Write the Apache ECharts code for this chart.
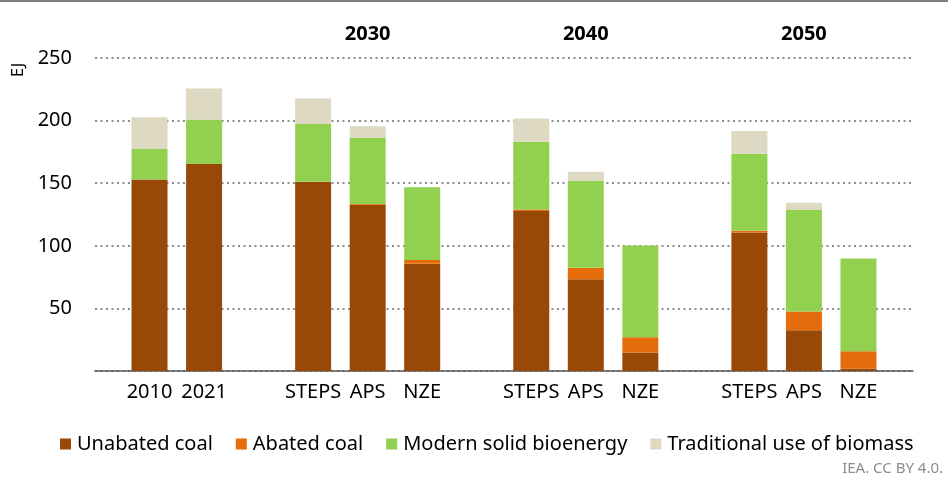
<!DOCTYPE html>
<html>
<head>
<meta charset="utf-8">
<script src="https://cdn.jsdelivr.net/npm/echarts@6/dist/echarts.min.js"></script>
<style>html,body{margin:0;padding:0;background:#fff}#c{width:948px;height:482px}</style>
</head>
<body>
<div id="c"></div>
<script>
// Categories (blank entries are spacing slots between groups)
const categories = ['', '2010', '2021', '', 'STEPS', 'APS', 'NZE', '', 'STEPS', 'APS', 'NZE', '', 'STEPS', 'APS', 'NZE', ''];
const groupLabels = ['', '', '', '', '', '2030', '', '', '', '2040', '', '', '', '2050', '', ''];
// Series values (EJ)
const unabatedCoal = [null, 153, 165.3, null, 150.9, 132.8, 85.6, null, 127.7, 73.3, 14.7, null, 110.7, 32.5, 1.9, null];
const abatedCoal   = [null, 0, 0, null, 0.3, 0.5, 3.0, null, 1.3, 9.1, 12.2, null, 1.3, 15.0, 13.8, null];
const modernBio    = [null, 24.3, 35.5, null, 46.1, 53.1, 58.1, null, 54.2, 69.6, 73.4, null, 61.6, 81.0, 74.2, null];
const tradBiomass  = [null, 25.3, 24.8, null, 20.3, 9.1, 0, null, 18.4, 7.2, 0, null, 18.1, 5.9, 0, null];
const yTicks = { min: 0, max: 250, interval: 50 };

const FONT = 'Noto Sans';
const chart = echarts.init(document.getElementById('c'), null, { renderer: 'canvas' });

function bar(name, data, color) {
  return {
    name, type: 'bar', stack: 'total', data, barWidth: 36,
    itemStyle: { color },
    emphasis: { disabled: true }
  };
}

chart.setOption({
  animation: false,
  backgroundColor: '#fff',
  textStyle: { fontFamily: FONT },
  grid: { left: 95, right: 35, top: 58, bottom: 111, containLabel: false },
  xAxis: [{
    type: 'category', data: categories, boundaryGap: false,
    axisLine: { show: true, lineStyle: { color: '#595959', width: 1.5 } },
    axisTick: { show: false },
    axisLabel: { interval: 0, color: '#000', fontSize: 20, fontFamily: FONT, margin: 11 },
    splitLine: { show: false }
  }, {
    type: 'category', data: groupLabels, boundaryGap: false, position: 'top',
    axisLine: { show: false }, axisTick: { show: false },
    axisLabel: { interval: 0, color: '#000', fontSize: 20, fontWeight: 'bold', fontFamily: FONT, margin: 14 },
    splitLine: { show: false }
  }],
  yAxis: {
    type: 'value', min: yTicks.min, max: yTicks.max, interval: yTicks.interval,
    axisLine: { show: false }, axisTick: { show: false },
    axisLabel: { color: '#000', fontSize: 20, fontFamily: FONT, margin: 23, showMinLabel: false,
      formatter: v => v === 0 ? '' : String(v) },
    splitLine: { show: true, lineStyle: { color: '#8c8c8c', width: 2, type: [2, 3.5] } }
  },
  legend: {
    left: 55, top: 429, itemWidth: 11, itemHeight: 11, itemGap: 23, icon: 'rect',
    textStyle: { color: '#000', fontSize: 20, fontFamily: FONT, padding: [0, 0, 0, 1] },
    selectedMode: false,
    data: ['Unabated coal', 'Abated coal', 'Modern solid bioenergy', 'Traditional use of biomass']
  },
  graphic: [
    { type: 'line', shape: { x1: 0, y1: 1, x2: 948, y2: 1 }, style: { stroke: '#7f7f7f', lineWidth: 2 } },
    { type: 'text', x: 10, y: 77, rotation: Math.PI / 2,
      style: { text: 'EJ', fill: '#000', font: '16px "Noto Sans"', textAlign: 'left', textVerticalAlign: 'top' } },
    { type: 'text', right: 5, top: 461,
      style: { text: 'IEA. CC BY 4.0.', fill: '#8c8c8c', font: '15px "Noto Sans"' } }
  ],
  series: [
    bar('Unabated coal', unabatedCoal, '#984807'),
    bar('Abated coal', abatedCoal, '#E46C0A'),
    bar('Modern solid bioenergy', modernBio, '#92D050'),
    bar('Traditional use of biomass', tradBiomass, '#DDD9C3')
  ]
});
</script>
</body>
</html>
